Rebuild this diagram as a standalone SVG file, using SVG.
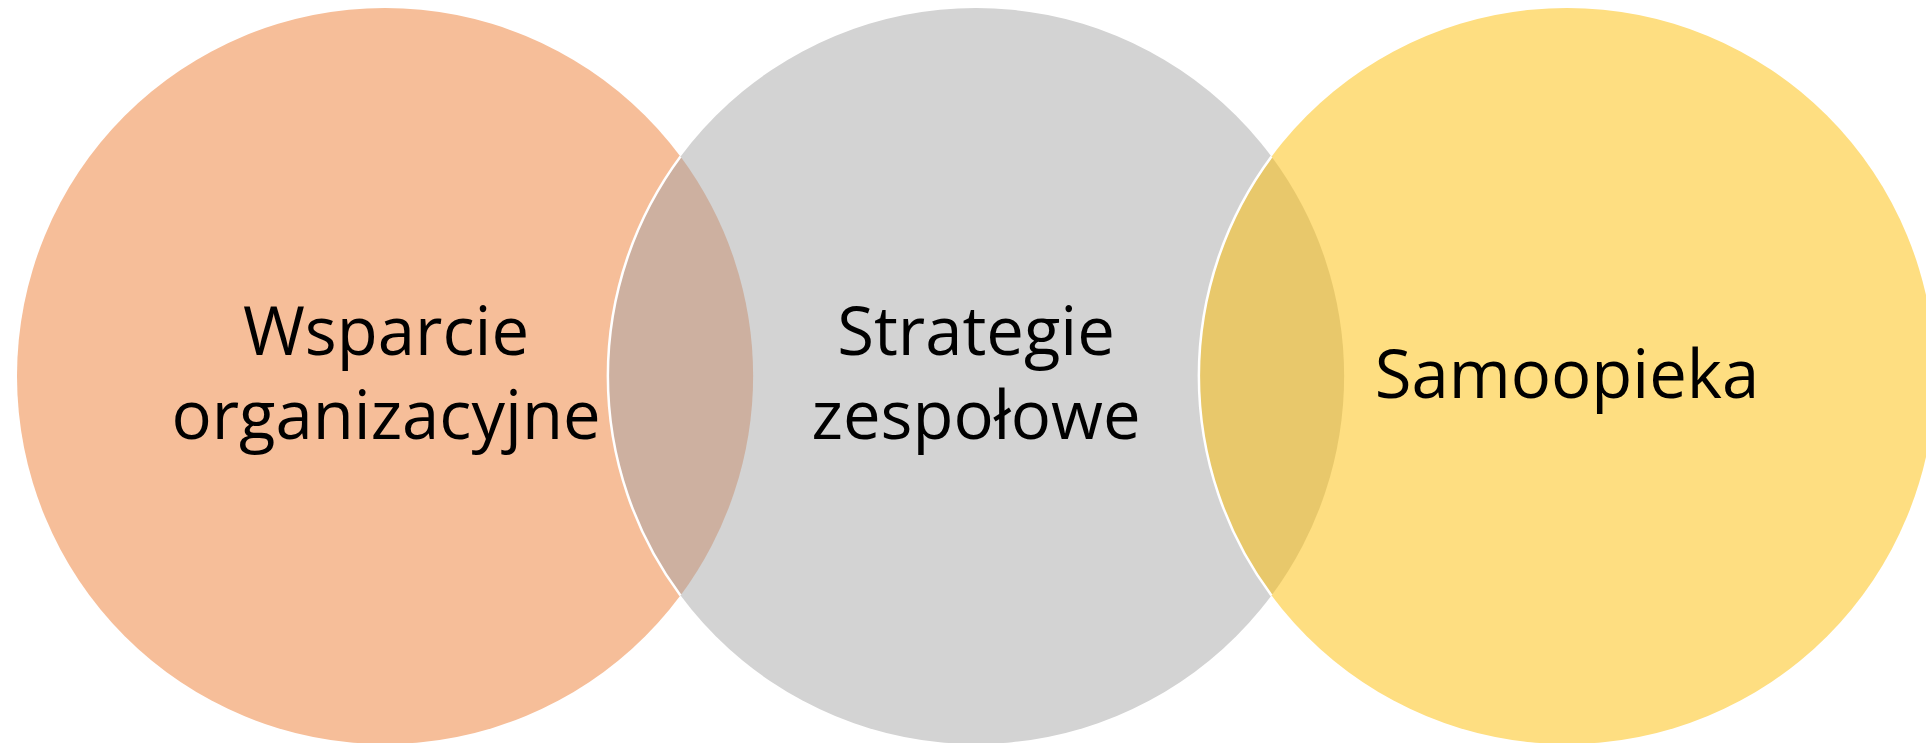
<svg xmlns="http://www.w3.org/2000/svg" width="1926" height="743" viewBox="0 0 1926 743">
  <style>
    .lbl { font-family: "Open Sans", "Liberation Sans", sans-serif; font-size: 67px; fill: #000000; text-anchor: middle; }
    .edge { fill: none; stroke: #FFFFFF; stroke-width: 2.5; }
  </style>
  <rect width="1926" height="743" fill="#FFFFFF"/>
  <g id="node-wsparcie">
    <circle cx="385" cy="376" r="368" fill="#F6BE99"/>
  </g>
  <g id="node-strategie">
    <circle cx="976" cy="376" r="368" fill="#D3D3D3"/>
  </g>
  <g id="node-samoopieka">
    <circle cx="1567" cy="376" r="368" fill="#FEDE81"/>
  </g>
  <g id="connectors">
    <path d="M 680.5 156.5 A 368 368 0 0 0 680.5 595.5 A 368 368 0 0 0 680.5 156.5 Z" fill="#CDB0A0"/>
    <path d="M 1271.5 156.5 A 368 368 0 0 0 1271.5 595.5 A 368 368 0 0 0 1271.5 156.5 Z" fill="#E8C86B"/>
    <path class="edge" d="M 680.5 156.5 A 368 368 0 0 0 680.5 595.5"/>
    <path class="edge" d="M 1271.5 156.5 A 368 368 0 0 0 1271.5 595.5"/>
  </g>
  <g id="labels">
    <text class="lbl" x="386" y="355">Wsparcie</text>
    <text class="lbl" x="386" y="439">organizacyjne</text>
    <text class="lbl" x="976" y="355">Strategie</text>
    <text class="lbl" x="976" y="439">zespołowe</text>
    <text class="lbl" x="1567" y="398">Samoopieka</text>
  </g>
</svg>
